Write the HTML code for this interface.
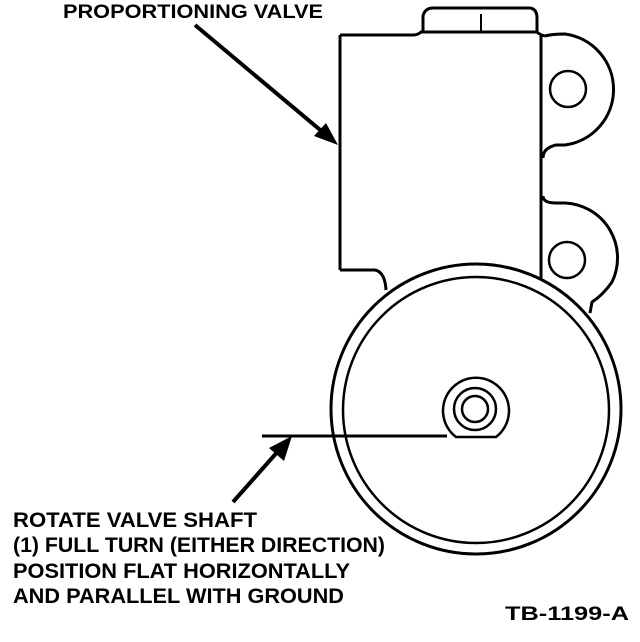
<!DOCTYPE html>
<html><head><style>body{margin:0;background:#fff}svg{display:block}</style></head><body>
<svg width="640" height="642" viewBox="0 0 640 642" xmlns="http://www.w3.org/2000/svg">
<g fill="none" stroke="#000" stroke-width="3" stroke-linejoin="round">
<!-- top tab -->
<path d="M423,32 L423,16 Q425,8 433,8 L530,8 Q537,9 537,18 L537,32 Z"/>
<line x1="481" y1="14" x2="481" y2="32" stroke-width="2"/>
<!-- body -->
<path d="M340,35 L413,35 Q418,35 421,32 L537,32 Q540,35 545,36"/>
<line x1="340" y1="35" x2="340" y2="270"/>
<path d="M340,270 L375,270 Q385,272 386,290"/>
<line x1="541" y1="35" x2="541" y2="290"/>
<!-- ears -->
<path d="M545,36 Q552,34 565,34 A56,56 0 0 1 565,145 L556,145 Q543,148 543,158"/>
<path d="M543,196 Q543,203 556,203 L565,203 A55,55 0 0 1 612,282 Q603,295 592,302 L590,313"/>
<circle cx="568" cy="89" r="18" stroke-width="2.5"/>
<circle cx="567" cy="260" r="18" stroke-width="2.5"/>
<!-- big circle -->
<circle cx="476" cy="409" r="145" fill="#fff"/>
<circle cx="476" cy="410" r="133" stroke-width="2.5"/>
<!-- hub -->
<path d="M456,437 A33,33 0 1 1 496,437 Z" stroke-width="2.5"/>
<circle cx="475" cy="409" r="21" stroke-width="2.5"/>
<circle cx="475" cy="409" r="13" stroke-width="2.5"/>
<!-- pointer line -->
<line x1="262" y1="436" x2="447" y2="436"/>
</g>
<!-- arrows -->
<g stroke="#000" stroke-width="4" fill="#000">
<line x1="195" y1="25" x2="325" y2="134"/>
<polygon points="338,145 314,136 326,123" stroke="none"/>
<line x1="233" y1="502" x2="280" y2="449"/>
<polygon points="292,436 284,461 269,448" stroke="none"/>
</g>
<g font-family="Liberation Sans, sans-serif" font-weight="bold" fill="#000">
<text x="63" y="18" font-size="19" textLength="260" lengthAdjust="spacingAndGlyphs">PROPORTIONING VALVE</text>
<text x="13" y="527" font-size="21" textLength="244" lengthAdjust="spacingAndGlyphs">ROTATE VALVE SHAFT</text>
<text x="13" y="552" font-size="21" textLength="372" lengthAdjust="spacingAndGlyphs">(1) FULL TURN (EITHER DIRECTION)</text>
<text x="13" y="578" font-size="21" textLength="337" lengthAdjust="spacingAndGlyphs">POSITION FLAT HORIZONTALLY</text>
<text x="13" y="603" font-size="21" textLength="331" lengthAdjust="spacingAndGlyphs">AND PARALLEL WITH GROUND</text>
<text x="505" y="620" font-size="19" textLength="124" lengthAdjust="spacingAndGlyphs">TB-1199-A</text>
</g>
</svg>
</body></html>
